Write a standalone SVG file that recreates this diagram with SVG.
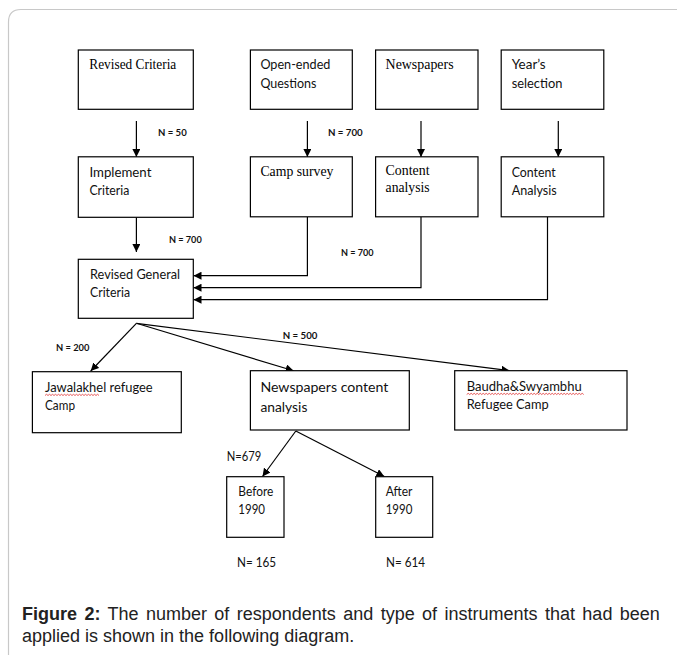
<svg xmlns="http://www.w3.org/2000/svg" width="677" height="655" viewBox="0 0 677 655">
<defs>
<marker id="ah" viewBox="0 0 8 8" refX="8" refY="4" markerWidth="8" markerHeight="8" markerUnits="userSpaceOnUse" orient="auto">
<path d="M0,0 L8,4 L0,8 z" fill="#000"/>
</marker>
<style>
.box{fill:#fff;stroke:#000;stroke-width:1.2}
.serif{font-family:"Liberation Serif","Times New Roman",serif;font-size:14px;fill:#000}
.sans{font-family:Lato,"Liberation Sans",sans-serif;font-size:13.5px;fill:#111}
.n{font-family:Lato,"Liberation Sans",sans-serif;font-size:9.5px;font-weight:bold;fill:#111}
.n2{font-family:Lato,"Liberation Sans",sans-serif;font-size:12.5px;fill:#111}
.conn{fill:none;stroke:#000;stroke-width:1.2;marker-end:url(#ah)}
.wave{fill:none;stroke:#e03030;stroke-width:0.8}
.cap{font-family:"Liberation Sans",Arial,sans-serif;font-size:18px;fill:#222}
</style>
</defs>
<rect width="677" height="655" fill="#fff"/>
<path d="M8.5,655 L8.5,22 Q8.5,9.5 21,9.5 L677,9.5" fill="none" stroke="#c8c8c8" stroke-width="1.2"/>

<g id="connectors">
<line class="conn" x1="136.4" y1="121" x2="136.4" y2="157"/>
<line class="conn" x1="307.4" y1="121" x2="307.4" y2="157"/>
<line class="conn" x1="421" y1="121" x2="421" y2="157"/>
<line class="conn" x1="558.3" y1="121" x2="558.3" y2="157"/>
<line class="conn" x1="136.4" y1="217.3" x2="136.4" y2="252"/>
<polyline class="conn" points="307.4,217 307.4,275.7 193.5,275.7"/>
<polyline class="conn" points="421,217 421,287.7 193.5,287.7"/>
<polyline class="conn" points="547.5,217 547.5,299.7 193.5,299.7"/>
<line class="conn" x1="136.4" y1="323.3" x2="90.7" y2="371"/>
<line class="conn" x1="136.4" y1="323.3" x2="293.6" y2="370.7"/>
<line class="conn" x1="136.4" y1="323.3" x2="509.5" y2="370.7"/>
<line class="conn" x1="295.8" y1="431" x2="262.5" y2="476.5"/>
<line class="conn" x1="295.8" y1="431" x2="384.3" y2="476.5"/>
<text class="n" x="158" y="135.5" textLength="28.7" lengthAdjust="spacingAndGlyphs">N = 50</text>
<text class="n" x="328" y="135.5" textLength="34.7" lengthAdjust="spacingAndGlyphs">N = 700</text>
<text class="n" x="169" y="243" textLength="32.7" lengthAdjust="spacingAndGlyphs">N = 700</text>
<text class="n" x="341" y="256" textLength="32.5" lengthAdjust="spacingAndGlyphs">N = 700</text>
<text class="n" x="56" y="350.5" textLength="33.4" lengthAdjust="spacingAndGlyphs">N = 200</text>
<text class="n" x="282.8" y="338.5" textLength="34.6" lengthAdjust="spacingAndGlyphs">N = 500</text>
<text class="n2" x="226.7" y="461" textLength="34.5" lengthAdjust="spacingAndGlyphs">N=679</text>
</g>

<g id="revised-criteria">
<rect class="box" x="78.3" y="50" width="115" height="59.3"/>
<text class="serif" x="89.3" y="68.5" textLength="87" lengthAdjust="spacingAndGlyphs">Revised Criteria</text>
</g>
<g id="open-ended">
<rect class="box" x="250.4" y="50" width="101.9" height="59.3"/>
<text class="sans" x="260.4" y="69" textLength="70" lengthAdjust="spacingAndGlyphs">Open-ended</text>
<text class="sans" x="260.4" y="87.5" textLength="56" lengthAdjust="spacingAndGlyphs">Questions</text>
</g>
<g id="newspapers">
<rect class="box" x="375.6" y="50" width="102.4" height="59.3"/>
<text class="serif" x="385.6" y="68.5" textLength="68" lengthAdjust="spacingAndGlyphs">Newspapers</text>
</g>
<g id="years-selection">
<rect class="box" x="501.2" y="50" width="102.6" height="59.3"/>
<text class="sans" x="511.7" y="69" textLength="34" lengthAdjust="spacingAndGlyphs">Year’s</text>
<text class="sans" x="511.7" y="87.5" textLength="50.7" lengthAdjust="spacingAndGlyphs">selection</text>
</g>

<g id="implement-criteria">
<rect class="box" x="78.3" y="156.8" width="115" height="60.5"/>
<text class="sans" x="89.4" y="176.7" textLength="62" lengthAdjust="spacingAndGlyphs">Implement</text>
<text class="sans" x="89.4" y="195" textLength="40" lengthAdjust="spacingAndGlyphs">Criteria</text>
</g>
<g id="camp-survey">
<rect class="box" x="250.4" y="156.8" width="101.9" height="60"/>
<text class="serif" x="260.4" y="176" textLength="73" lengthAdjust="spacingAndGlyphs">Camp survey</text>
</g>
<g id="content-analysis-1">
<rect class="box" x="375.6" y="156.8" width="102.4" height="60"/>
<text class="serif" x="385.6" y="175" textLength="44" lengthAdjust="spacingAndGlyphs">Content</text>
<text class="serif" x="385.6" y="191.5" textLength="44" lengthAdjust="spacingAndGlyphs">analysis</text>
</g>
<g id="content-analysis-2">
<rect class="box" x="501.2" y="156.8" width="102.6" height="60"/>
<text class="sans" x="511.7" y="176.7" textLength="44" lengthAdjust="spacingAndGlyphs">Content</text>
<text class="sans" x="511.7" y="195" textLength="45" lengthAdjust="spacingAndGlyphs">Analysis</text>
</g>

<g id="revised-general-criteria">
<rect class="box" x="78.3" y="259.3" width="115" height="59"/>
<text class="sans" x="90" y="278.5" textLength="90" lengthAdjust="spacingAndGlyphs">Revised General</text>
<text class="sans" x="90" y="297" textLength="40" lengthAdjust="spacingAndGlyphs">Criteria</text>
</g>

<g id="jawalakhel">
<rect class="box" x="32.4" y="371.7" width="148.9" height="61"/>
<text class="sans" x="45" y="391.5" textLength="107.7" lengthAdjust="spacingAndGlyphs">Jawalakhel refugee</text>
<text class="sans" x="45" y="410" textLength="30" lengthAdjust="spacingAndGlyphs">Camp</text>
<path class="wave" d="M45,395.5 l1.5,-1.2 l1.5,1.2 l1.5,-1.2 l1.5,1.2 l1.5,-1.2 l1.5,1.2 l1.5,-1.2 l1.5,1.2 l1.5,-1.2 l1.5,1.2 l1.5,-1.2 l1.5,1.2 l1.5,-1.2 l1.5,1.2 l1.5,-1.2 l1.5,1.2 l1.5,-1.2 l1.5,1.2 l1.5,-1.2 l1.5,1.2 l1.5,-1.2 l1.5,1.2 l1.5,-1.2 l1.5,1.2 l1.5,-1.2 l1.5,1.2 l1.5,-1.2 l1.5,1.2 l1.5,-1.2 l1.5,1.2 l1.5,-1.2 l1.5,1.2 l1.5,-1.2 l1.5,1.2 l1.5,-1.2 l1.5,1.2"/>
</g>
<g id="newspapers-content-analysis">
<rect class="box" x="250.4" y="370.7" width="158.9" height="59.3"/>
<text class="sans" x="260.4" y="391.5" textLength="128" lengthAdjust="spacingAndGlyphs">Newspapers content</text>
<text class="sans" x="260.4" y="412" textLength="47" lengthAdjust="spacingAndGlyphs">analysis</text>
</g>
<g id="baudha-swyambhu">
<rect class="box" x="454.7" y="370.7" width="172.3" height="59.3"/>
<text class="sans" x="466.7" y="390.5" textLength="115" lengthAdjust="spacingAndGlyphs">Baudha&amp;Swyambhu</text>
<text class="sans" x="466.7" y="408.5" textLength="82" lengthAdjust="spacingAndGlyphs">Refugee Camp</text>
<path class="wave" d="M466.7,394.5 l1.5,-1.2 l1.5,1.2 l1.5,-1.2 l1.5,1.2 l1.5,-1.2 l1.5,1.2 l1.5,-1.2 l1.5,1.2 l1.5,-1.2 l1.5,1.2 l1.5,-1.2 l1.5,1.2 l1.5,-1.2 l1.5,1.2 l1.5,-1.2 l1.5,1.2 l1.5,-1.2 l1.5,1.2 l1.5,-1.2 l1.5,1.2 l1.5,-1.2 l1.5,1.2 l1.5,-1.2 l1.5,1.2 l1.5,-1.2 l1.5,1.2 l1.5,-1.2 l1.5,1.2 l1.5,-1.2 l1.5,1.2 l1.5,-1.2 l1.5,1.2 l1.5,-1.2 l1.5,1.2 l1.5,-1.2 l1.5,1.2 l1.5,-1.2 l1.5,1.2 l1.5,-1.2 l1.5,1.2 l1.5,-1.2 l1.5,1.2 l1.5,-1.2 l1.5,1.2 l1.5,-1.2 l1.5,1.2 l1.5,-1.2 l1.5,1.2 l1.5,-1.2 l1.5,1.2 l1.5,-1.2 l1.5,1.2 l1.5,-1.2 l1.5,1.2 l1.5,-1.2 l1.5,1.2 l1.5,-1.2 l1.5,1.2 l1.5,-1.2 l1.5,1.2 l1.5,-1.2 l1.5,1.2 l1.5,-1.2 l1.5,1.2 l1.5,-1.2 l1.5,1.2 l1.5,-1.2 l1.5,1.2 l1.5,-1.2 l1.5,1.2 l1.5,-1.2 l1.5,1.2 l1.5,-1.2 l1.5,1.2 l1.5,-1.2 l1.5,1.2 l1.5,-1.2 l1.5,1.2"/>
</g>

<g id="before-1990">
<rect class="box" x="226.7" y="476.7" width="57.3" height="60.6"/>
<text class="sans" x="238.3" y="496" textLength="35" lengthAdjust="spacingAndGlyphs">Before</text>
<text class="sans" x="238.3" y="513.5" textLength="26.7" lengthAdjust="spacingAndGlyphs">1990</text>
</g>
<g id="after-1990">
<rect class="box" x="375.7" y="476.7" width="57" height="60.6"/>
<text class="sans" x="385.7" y="496" textLength="26.7" lengthAdjust="spacingAndGlyphs">After</text>
<text class="sans" x="385.7" y="513.5" textLength="26.7" lengthAdjust="spacingAndGlyphs">1990</text>
</g>

<g id="totals">
<text class="n2" x="237" y="567" textLength="39" lengthAdjust="spacingAndGlyphs">N= 165</text>
<text class="n2" x="386" y="567" textLength="39" lengthAdjust="spacingAndGlyphs">N= 614</text>
</g>

<g id="caption">
<text class="cap" x="22" y="620" word-spacing="2.4"><tspan font-weight="bold">Figure 2:</tspan> The number of respondents and type of instruments that had been</text>
<text class="cap" x="22" y="641.5">applied is shown in the following diagram.</text>
</g>
</svg>
